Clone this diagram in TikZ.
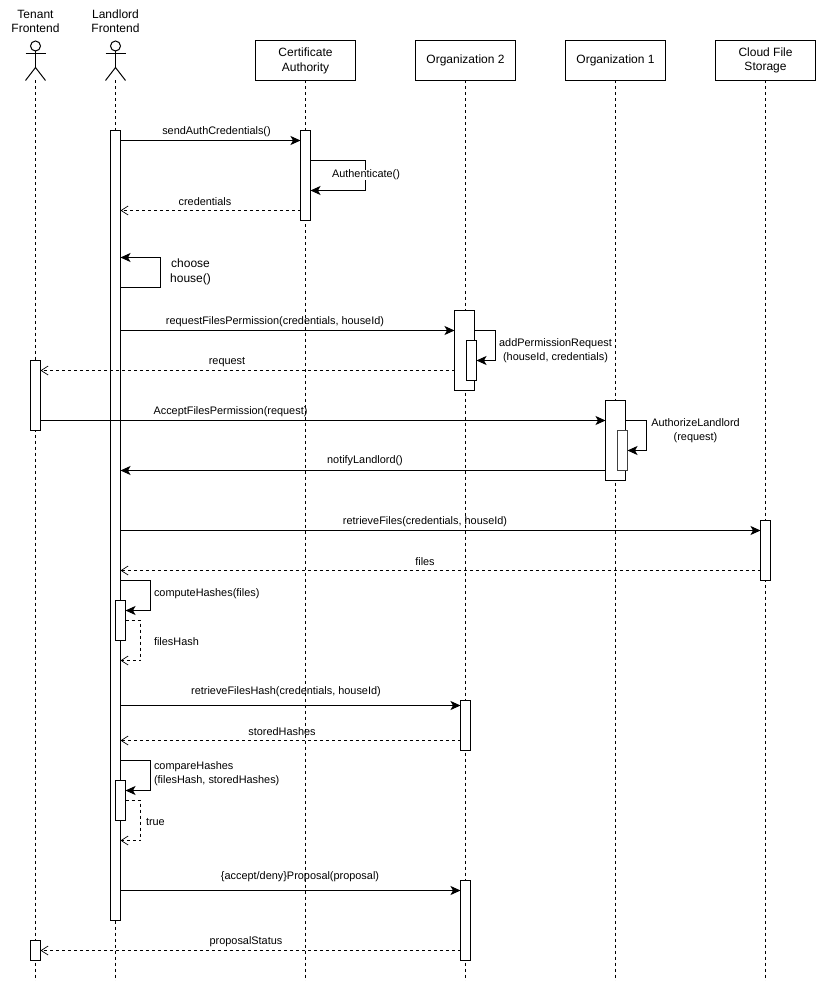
\documentclass[tikz,border=0pt]{standalone}
\usepackage{fontspec}
\setmainfont{Liberation Sans}
\usetikzlibrary{arrows.meta,positioning}
\tikzset{
  every node/.style={inner sep=0pt,outer sep=0pt},
  party/.style={draw=black,fill=white,line width=1pt,minimum width=100pt,minimum height=40pt,align=center,font=\fontsize{12}{14.5}\selectfont},
  actorname/.style={align=center,font=\fontsize{12}{14.5}\selectfont,yshift=-0.2pt},
  figure/.style={draw=black,line width=1pt},
  lifeline/.style={draw=black,line width=1pt,dash pattern=on 3pt off 3pt},
  bar/.style={draw=black,fill=white,line width=1pt},
  softbar/.style={draw=black!75,fill=white,line width=1.2pt},
  call/.style={draw=black,line width=1pt,-{Stealth[length=10pt,width=9pt,inset=2.5pt]}},
  reply/.style={draw=black,line width=0.8pt,dash pattern=on 3pt off 3pt,-{Straight Barb[length=7pt,width=9pt,line width=0.7pt]}},
  msg/.style={align=center,yshift=-0.5pt,font=\fontsize{10.9}{14}\selectfont},
  msgleft/.style={align=left,anchor=west,yshift=-0.5pt,font=\fontsize{10.9}{14}\selectfont},
  bigmsg/.style={align=center,yshift=-1pt,font=\fontsize{12}{15}\selectfont}
}
\newcommand{\barnode}[6][bar]{% style, name, left, top, right, bottom
  \node[#1,minimum width=#5pt-#3pt,minimum height=#6pt-#4pt] (#2) at ({(#3+#5)/2},{(#4+#6)/2}) {};}
\newcommand{\stickman}[2]{% name, x of the centre line
  \draw[figure] (#2,45.5) circle (5pt);
  \draw[figure] (#2,50.5) -- (#2,67) (#2-10,53.5) -- (#2+10,53.5);
  \draw[figure] (#2-10,80) -- (#2,67) -- (#2+10,80);
  \coordinate (#1) at (#2,80);}
\begin{document}
\begin{tikzpicture}[x=1pt,y=-1pt]
\useasboundingbox (-0.5,-0.5) rectangle (815.5,980.5);
\fill[white] (-0.5,-0.5) rectangle (815.5,980.5);

% participants
\node[actorname] (tenantName) at (35,20.5) {Tenant\\Frontend};
\node[actorname] (landlordName) at (115,20.5) {Landlord\\Frontend};
\stickman{tenant}{35}
\stickman{landlord}{115}
\node[party] (ca) at (305,60) {\raisebox{-0.8pt}{\shortstack{Certificate\\[3pt]Authority}}};
\node[party] (orgtwo) at (465,60) {\raisebox{-0.8pt}{Organization 2}};
\node[party] (orgone) at (615,60) {\raisebox{-0.8pt}{Organization 1}};
\node[party] (cloud) at (765,60) {\raisebox{-0.8pt}{\shortstack{Cloud File\\[3pt]Storage}}};

% lifelines
\foreach \who/\px in {tenant/35,landlord/115}
  \draw[lifeline] (\who) -- (\px,980);
\foreach \who in {ca,orgtwo,orgone,cloud}
  \draw[lifeline] (\who.south) -- (\who.south |- 0,980);

% activation bars
\barnode{llmain}{110}{130}{120}{920}
\barnode{caA}{300}{130}{310}{220}
\barnode{twoA}{454}{310}{474}{390}
\barnode{twoB}{466}{340}{476}{380}
\barnode{tenA}{30}{360}{40}{430}
\barnode{oneA}{605}{400}{625}{480}
\barnode[softbar]{oneB}{617}{430}{627}{470}
\barnode{cloudA}{760}{520}{770}{580}
\barnode{llB}{115}{600}{125}{640}
\barnode{twoC}{460}{700}{470}{750}
\barnode{llC}{115}{780}{125}{820}
\barnode{twoD}{460}{880}{470}{960}
\barnode{tenB}{30}{940}{40}{960}

% messages
\draw[call] (llmain.east |- 0,140) -- (caA.west |- 0,140);
\node[msg] (m1) at (216,131) {sendAuthCredentials()};
\draw[call] (caA.east |- 0,160) -- (365,160) -- (365,190) -- (caA.east |- 0,190);
\node[msg,fill=white,inner xsep=1pt] (m2) at (365.5,174) {Authenticate()};
\draw[reply] (caA.west |- 0,210) -- (llmain.east |- 0,210);
\node[msg] (m3) at (204.5,201) {credentials};

\draw[call] (llmain.east |- 0,287) -- (160,287) -- (160,257) -- (llmain.east |- 0,257);
\node[bigmsg] (m4) at (190,270.5) {choose\\house()};

\draw[call] (llmain.east |- 0,330) -- (twoA.west |- 0,330);
\node[msg] (m5) at (274.5,321) {requestFilesPermission(credentials, houseId)};
\draw[call] (twoA.east |- 0,330) -- (495,330) -- (495,360) -- (twoB.east |- 0,360);
\node[msg] (m6) at (555,350) {addPermissionRequest\\(houseId, credentials)};
\draw[reply] (twoA.west |- 0,370) -- (tenA.east |- 0,370);
\node[msg] (m7) at (226.5,361) {request};

\draw[call] (tenA.east |- 0,420) -- (oneA.west |- 0,420);
\node[msg] (m8) at (230,411) {AcceptFilesPermission(request)};
\draw[call] (oneA.east |- 0,420) -- (646,420) -- (646,450) -- (oneB.east |- 0,450);
\node[msg] (m9) at (695,430) {AuthorizeLandlord\\(request)};
\draw[call] (oneA.west |- 0,470) -- (llmain.east |- 0,470);
\node[msg] (m10) at (364.5,460) {notifyLandlord()};

\draw[call] (llmain.east |- 0,530) -- (cloudA.west |- 0,530);
\node[msg] (m11) at (424.5,521) {retrieveFiles(credentials, houseId)};
\draw[reply] (cloudA.west |- 0,570) -- (llmain.east |- 0,570);
\node[msg] (m12) at (424.5,561) {files};

\draw[call] (llmain.east |- 0,580) -- (150,580) -- (150,610) -- (llB.east |- 0,610);
\node[msgleft] (m13) at (153.5,593) {computeHashes(files)};
\draw[reply] (llB.east |- 0,620) -- (140,620) -- (140,660) -- (llmain.east |- 0,660);
\node[msgleft] (m14) at (153.5,641) {filesHash};

\draw[call] (llmain.east |- 0,705) -- (twoC.west |- 0,705);
\node[msg] (m15) at (285.5,691) {retrieveFilesHash(credentials, houseId)};
\draw[reply] (twoC.west |- 0,740) -- (llmain.east |- 0,740);
\node[msg] (m16) at (281.5,731) {storedHashes};

\draw[call] (llmain.east |- 0,760) -- (150,760) -- (150,790) -- (llC.east |- 0,790);
\node[msgleft] (m17) at (153.5,773) {compareHashes\\(filesHash, storedHashes)};
\draw[reply] (llC.east |- 0,800) -- (140,800) -- (140,840) -- (llmain.east |- 0,840);
\node[msgleft] (m18) at (145.5,821) {true};

\draw[call] (llmain.east |- 0,890) -- (twoD.west |- 0,890);
\node[msg] (m19) at (299.5,876) {\{accept/deny\}Proposal(proposal)};
\draw[reply] (twoD.west |- 0,950) -- (tenB.east |- 0,950);
\node[msg] (m20) at (245.5,941) {proposalStatus};
\end{tikzpicture}
\end{document}
